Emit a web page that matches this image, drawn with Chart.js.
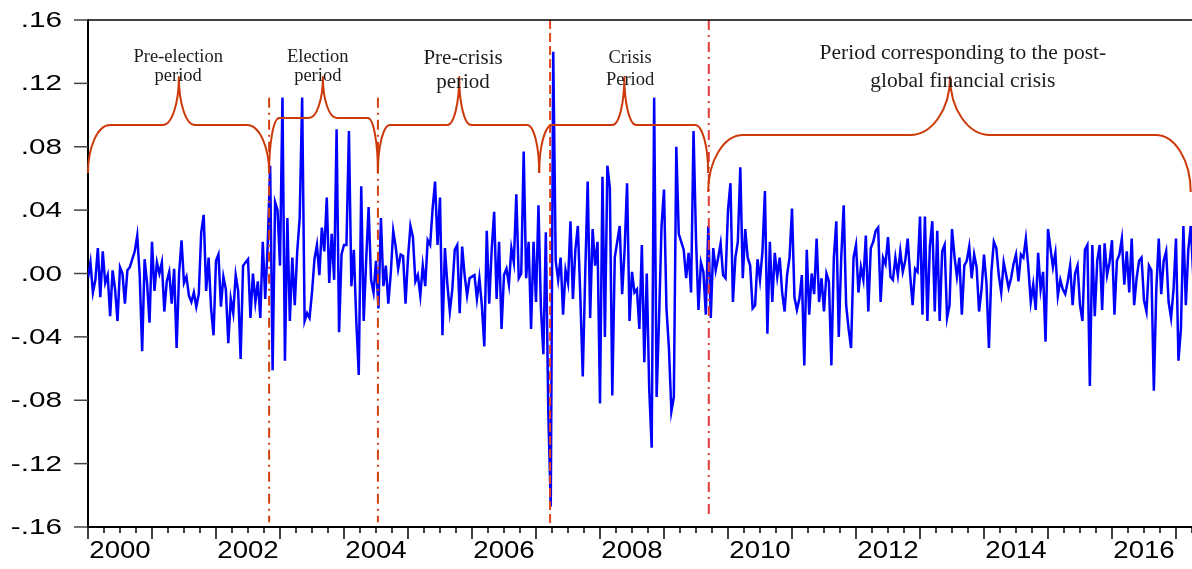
<!DOCTYPE html>
<html>
<head>
<meta charset="utf-8">
<script src="https://cdn.jsdelivr.net/npm/chart.js@4.4.1/dist/chart.umd.min.js"></script>
<style>
  html, body { margin: 0; padding: 0; background: #fff; }
  #wrap { width: 1192px; height: 569px; }
</style>
</head>
<body>
<div id="wrap"><canvas id="chart" width="1192" height="569"></canvas></div>
<script>
// --- DATA (bi-weekly returns, Jan 2000 onward) ---
const startYear = 2000;
const stepYears = 2 / 52;
const returns = [
  -0.003, 0.007, -0.012, -0.004, 0.016, -0.015, 0.014, -0.006, -0.001, -0.027,
  0.002, -0.010, -0.030, 0.004, 0.000, -0.019, 0.002, 0.004, 0.009, 0.014,
  0.024, -0.001, -0.049, 0.009, -0.006, -0.031, 0.020, -0.011, 0.007, 0.000,
  0.007, -0.024, -0.005, 0.001, -0.019, 0.003, -0.047, 0.000, 0.021, -0.006,
  -0.002, -0.014, -0.018, -0.012, -0.021, -0.013, 0.026, 0.037, -0.011, 0.010,
  -0.022, -0.039, 0.008, 0.012, -0.021, -0.002, -0.010, -0.044, -0.016, -0.025,
  -0.001, -0.011, -0.054, 0.005, 0.007, 0.009, -0.028, 0.000, -0.018, -0.005,
  -0.028, 0.020, -0.016, 0.018, 0.068, -0.061, 0.045, 0.040, 0.005, 0.111,
  -0.055, 0.035, -0.030, 0.010, -0.020, 0.014, 0.035, 0.111, -0.030, -0.025,
  -0.028, -0.012, 0.009, 0.018, -0.001, 0.029, 0.014, 0.048, -0.006, 0.025,
  -0.004, 0.091, -0.037, 0.012, 0.018, 0.018, 0.090, -0.008, 0.015, -0.030,
  -0.064, 0.055, -0.030, 0.008, 0.042, -0.004, -0.012, 0.008, -0.022, 0.035,
  -0.008, 0.005, -0.019, 0.000, 0.027, 0.017, 0.003, 0.012, 0.011, -0.019,
  0.010, 0.030, 0.023, -0.005, -0.001, -0.014, 0.005, -0.008, 0.021, 0.018,
  0.041, 0.058, 0.018, 0.048, -0.039, 0.016, -0.007, -0.024, -0.010, 0.015,
  0.018, -0.025, 0.017, -0.001, -0.014, -0.003, -0.002, -0.001, -0.016, -0.003,
  -0.020, -0.046, 0.027, -0.019, 0.015, 0.039, -0.016, 0.020, -0.035, -0.001,
  0.003, -0.007, 0.016, 0.007, 0.050, -0.003, 0.000, 0.077, -0.003, 0.020,
  -0.035, 0.020, -0.018, 0.043, -0.022, -0.051, 0.026, -0.088, -0.147, 0.140,
  0.008, -0.004, 0.010, -0.026, 0.002, -0.006, 0.033, -0.016, 0.015, 0.030,
  -0.014, -0.065, 0.000, 0.058, -0.028, 0.028, 0.005, 0.020, -0.082, 0.061,
  -0.040, 0.068, 0.054, -0.077, 0.010, 0.020, 0.030, -0.013, 0.015, 0.057,
  -0.030, 0.001, -0.012, -0.010, -0.035, 0.018, -0.056, 0.000, -0.073, -0.110,
  0.111, -0.078, -0.028, 0.030, 0.053, -0.022, -0.047, -0.087, -0.078, 0.080,
  0.025, 0.020, 0.015, -0.003, 0.013, -0.012, 0.090, 0.022, -0.023, 0.007,
  0.001, -0.026, 0.030, -0.028, 0.016, 0.002, 0.010, 0.019, -0.001, -0.003,
  0.040, 0.057, -0.018, 0.010, 0.020, 0.067, -0.003, 0.028, 0.010, 0.005,
  -0.022, -0.020, 0.009, -0.004, 0.014, 0.052, -0.038, 0.020, -0.018, 0.013,
  -0.002, 0.010, -0.012, -0.024, -0.001, 0.010, 0.041, -0.015, -0.023, -0.016,
  -0.001, -0.058, 0.015, -0.026, 0.000, -0.013, 0.022, -0.018, -0.003, -0.024,
  0.000, -0.005, -0.058, 0.010, 0.033, -0.040, 0.010, 0.043, -0.020, -0.035,
  -0.047, 0.010, 0.018, -0.012, 0.004, -0.004, 0.024, -0.024, 0.016, 0.020,
  0.027, 0.029, -0.018, 0.010, 0.006, 0.023, -0.002, -0.004, 0.010, -0.001,
  0.014, 0.001, 0.008, 0.022, -0.001, -0.020, 0.003, 0.001, 0.036, -0.026,
  0.036, -0.030, 0.017, 0.033, -0.024, 0.027, -0.030, 0.014, 0.018, -0.028,
  -0.020, 0.028, 0.011, -0.002, 0.010, -0.026, 0.005, 0.008, 0.017, -0.003,
  0.012, 0.004, -0.024, -0.010, 0.012, -0.006, -0.047, 0.001, 0.020, 0.016,
  -0.001, -0.012, 0.007, -0.001, -0.009, -0.003, 0.006, 0.012, -0.005, 0.012,
  0.010, 0.022, 0.004, -0.018, -0.007, -0.023, 0.013, -0.010, 0.001, -0.043,
  0.028, 0.016, 0.004, 0.013, -0.014, -0.004, -0.010, -0.013, -0.005, 0.005,
  -0.020, 0.000, 0.005, -0.020, -0.030, 0.015, 0.018, -0.071, 0.018, -0.027,
  0.008, 0.018, -0.023, 0.019, -0.001, 0.007, 0.021, -0.026, 0.008, 0.012,
  0.022, -0.007, 0.014, -0.012, 0.022, -0.020, -0.003, 0.008, 0.010, -0.017,
  -0.024, 0.005, 0.002, -0.074, -0.010, 0.022, -0.013, 0.008, 0.014, -0.018,
  -0.028, -0.010, 0.022, -0.055, -0.035, 0.030, -0.020, 0.015, 0.030, -0.001
];
const yTicks = [-0.16, -0.12, -0.08, -0.04, 0, 0.04, 0.08, 0.12, 0.16];
const yearLabels = [2000, 2002, 2004, 2006, 2008, 2010, 2012, 2014, 2016];
const breakYears = [2002.83, 2004.53, 2007.22, 2009.70];
const braceSpans = [
  // [from, to, tip]
  [2000.00, 2002.83, 2001.42],
  [2002.83, 2004.53, 2003.67],
  [2004.53, 2007.05, 2005.80],
  [2007.05, 2009.69, 2008.38],
  [2009.69, 2017.23, 2013.47]
];
const braceLevels = [
  // [end, flat, tip]
  [0.0634, 0.0937, 0.124],
  [0.0634, 0.0981, 0.124],
  [0.0634, 0.0937, 0.124],
  [0.0634, 0.0937, 0.124],
  [0.0514, 0.0874, 0.124]
];
const periodNames = [
  ['Pre-election', 'period'],
  ['Election', 'period'],
  ['Pre-crisis', 'period'],
  ['Crisis', 'Period'],
  ['Period corresponding to the post-', 'global financial crisis']
];
const periodNameX = [2001.41, 2003.59, 2005.86, 2008.47, 2013.67];
const periodNameY = [
  [0.1338, 0.1215],
  [0.1338, 0.1215],
  [0.1322, 0.1170],
  [0.1328, 0.1190],
  [0.1353, 0.1177]
];

// --- STYLES ---
const BLUE = '#0000ff';
const BRACE = '#cc3a0a';
const braceRadii = [[22, 16], [10, 14], [12, 12], [13, 12], [35, 40]];
const nameSizes = [18.5, 18.5, 21, 18.5, 21.5];
const breakStyles = [
  { color: '#d2400f', dash: [10, 5, 2, 5], top: 0.111, bottom: -0.157 },
  { color: '#d2400f', dash: [10, 5, 2, 5], top: 0.111, bottom: -0.157 },
  { color: '#e0461c', dash: [9, 4], top: 0.16, bottom: -0.16 },
  { color: '#e23a3a', dash: [10, 5, 2, 5], top: 0.16, bottom: -0.155 }
];

const points = returns.map((v, i) => ({ x: startYear + i * stepYears, y: v }));

function fmtY(v) {
  if (Math.abs(v) < 1e-9) return '.00';
  return v.toFixed(2).replace('0.', '.');
}

function drawBrace(ctx, xs, ys, span, lev, rad) {
  const x0 = xs.getPixelForValue(span[0]);
  const x1 = xs.getPixelForValue(span[1]);
  const xt = xs.getPixelForValue(span[2]);
  const yE = ys.getPixelForValue(lev[0]);
  const yF = ys.getPixelForValue(lev[1]);
  const yT = ys.getPixelForValue(lev[2]);
  const r = rad[0], t = rad[1], k = 0.552;
  ctx.beginPath();
  ctx.moveTo(x0, yE);
  ctx.bezierCurveTo(x0, yE - k * (yE - yF), x0 + r * (1 - k), yF, x0 + r, yF);
  ctx.lineTo(xt - t, yF);
  ctx.bezierCurveTo(xt - t * (1 - k), yF, xt, yT + k * (yF - yT), xt, yT);
  ctx.bezierCurveTo(xt, yT + k * (yF - yT), xt + t * (1 - k), yF, xt + t, yF);
  ctx.lineTo(x1 - r, yF);
  ctx.bezierCurveTo(x1 - r * (1 - k), yF, x1, yE - k * (yE - yF), x1, yE);
  ctx.stroke();
}

const decor = {
  id: 'decor',
  afterDatasetsDraw(chart) {
    const { ctx } = chart;
    const xs = chart.scales.x, ys = chart.scales.y;
    ctx.save();
    // period break lines
    breakYears.forEach((yr, i) => {
      const st = breakStyles[i];
      const px = xs.getPixelForValue(yr);
      ctx.strokeStyle = st.color;
      ctx.lineWidth = 2;
      ctx.setLineDash(st.dash);
      ctx.beginPath();
      ctx.moveTo(px, ys.getPixelForValue(st.top));
      ctx.lineTo(px, ys.getPixelForValue(st.bottom));
      ctx.stroke();
    });
    ctx.setLineDash([]);
    // braces
    ctx.strokeStyle = BRACE;
    ctx.lineWidth = 2;
    ctx.lineJoin = 'round';
    braceSpans.forEach((sp, i) => drawBrace(ctx, xs, ys, sp, braceLevels[i], braceRadii[i]));
    // period names
    ctx.fillStyle = '#1c1c1c';
    ctx.textAlign = 'center';
    ctx.textBaseline = 'alphabetic';
    periodNames.forEach((lines, i) => {
      ctx.font = nameSizes[i] + 'px "Liberation Serif", "Times New Roman", serif';
      const px = xs.getPixelForValue(periodNameX[i]);
      lines.forEach((ln, j) => ctx.fillText(ln, px, ys.getPixelForValue(periodNameY[i][j])));
    });
    ctx.restore();
  },
  afterDraw(chart) {
    const { ctx, chartArea: a } = chart;
    const xs = chart.scales.x, ys = chart.scales.y;
    ctx.save();
    // top frame line
    ctx.strokeStyle = '#000';
    ctx.lineWidth = 1.5;
    ctx.beginPath();
    ctx.moveTo(a.left, a.top);
    ctx.lineTo(a.right, a.top);
    ctx.stroke();
    // y ticks + labels
    ctx.strokeStyle = '#444';
    ctx.lineWidth = 1.5;
    ctx.fillStyle = '#000';
    ctx.font = '22px "Liberation Sans", Arial, sans-serif';
    ctx.textAlign = 'right';
    ctx.textBaseline = 'middle';
    yTicks.forEach(v => {
      const py = ys.getPixelForValue(v);
      ctx.beginPath();
      ctx.moveTo(a.left - 14, py);
      ctx.lineTo(a.left, py);
      ctx.stroke();
      ctx.save();
      ctx.translate(a.left - 26, py + 1);
      ctx.scale(1.35, 1);
      ctx.fillText(fmtY(v), 0, 0);
      ctx.restore();
    });
    // x ticks: years major, quarters minor
    ctx.strokeStyle = '#000';
    ctx.lineWidth = 1.5;
    for (let q = startYear * 4; q <= xs.max * 4; q++) {
      const px = xs.getPixelForValue(q / 4);
      const len = q % 4 === 0 ? 12 : 6;
      ctx.beginPath();
      ctx.moveTo(px, a.bottom);
      ctx.lineTo(px, a.bottom + len);
      ctx.stroke();
    }
    ctx.font = '24px "Liberation Sans", Arial, sans-serif';
    ctx.textAlign = 'center';
    yearLabels.forEach(yr => {
      const px = xs.getPixelForValue(yr + 0.5);
      ctx.save();
      ctx.translate(px, a.bottom + 24);
      ctx.scale(1.15, 1);
      ctx.fillText(String(yr), 0, 0);
      ctx.restore();
    });
    ctx.restore();
  }
};

new Chart(document.getElementById('chart'), {
  type: 'line',
  data: {
    datasets: [{
      data: points,
      borderColor: BLUE,
      borderWidth: 2.5,
      pointRadius: 0,
      tension: 0,
      fill: false
    }]
  },
  options: {
    responsive: false,
    animation: false,
    events: [],
    layout: { padding: { top: 20, right: 0, left: 0, bottom: 0 } },
    scales: {
      x: {
        type: 'linear',
        min: 2000,
        max: 2017.25,
        ticks: { display: false },
        grid: { display: false },
        border: { display: true, color: '#000', width: 2 },
        afterFit(s) { s.height = 42; }
      },
      y: {
        min: -0.16,
        max: 0.16,
        ticks: { display: false },
        grid: { display: false },
        border: { display: true, color: '#000', width: 2 },
        afterFit(s) { s.width = 88; }
      }
    },
    plugins: { legend: { display: false }, tooltip: { enabled: false } }
  },
  plugins: [decor]
});
</script>
</body>
</html>
